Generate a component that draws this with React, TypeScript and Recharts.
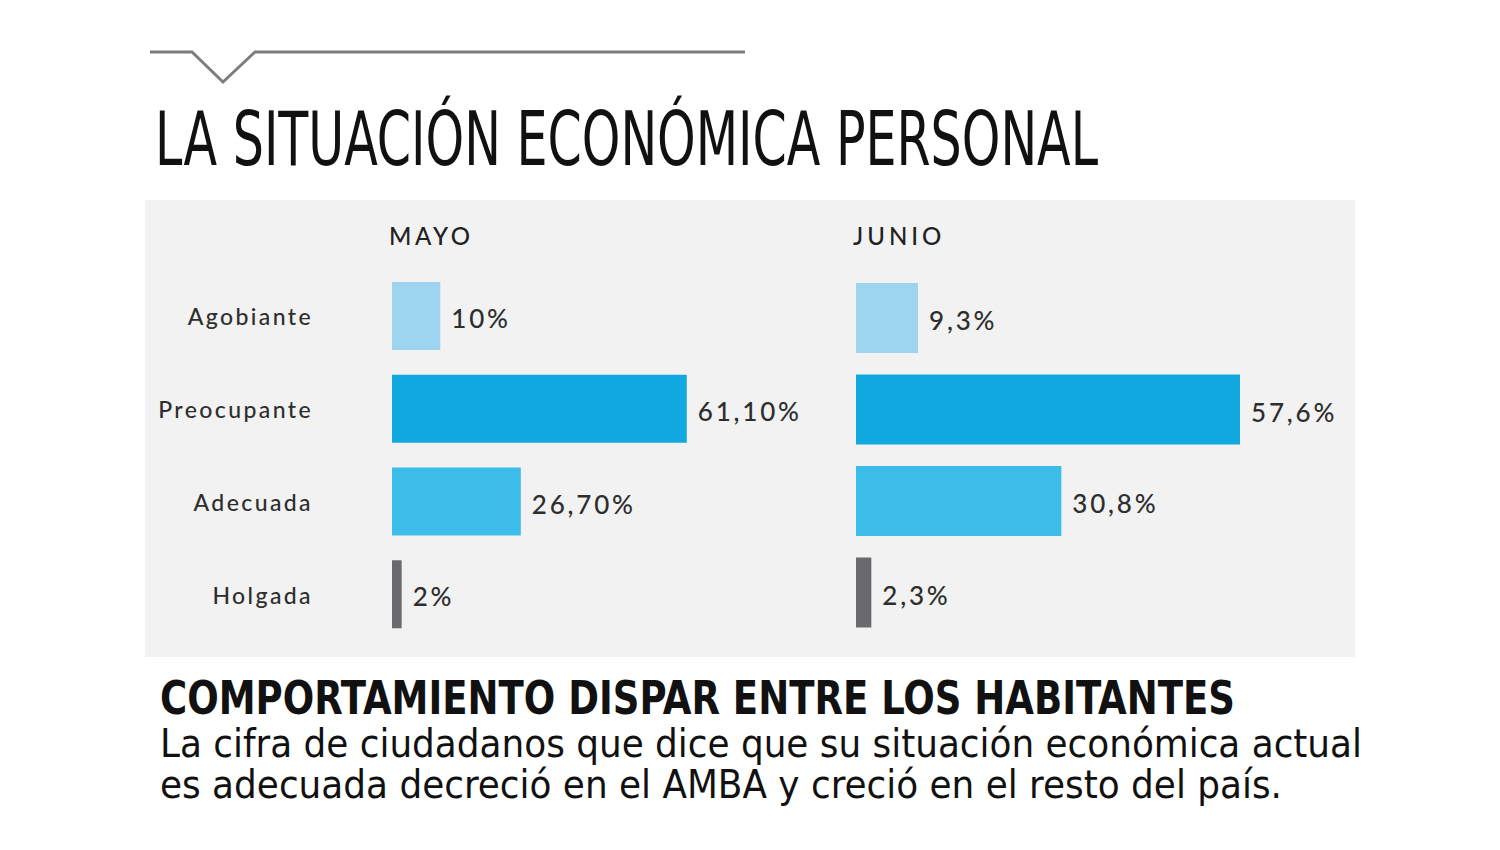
import React from "react";
import { BarChart, Bar, XAxis, YAxis, Cell, LabelList } from "recharts";

const categories = ["Agobiante", "Preocupante", "Adecuada", "Holgada"];
const mayoValues = [10, 61.1, 26.7, 2];
const mayoLabels = ["10%", "61,10%", "26,70%", "2%"];
const junioValues = [9.3, 57.6, 30.8, 2.3];
const junioLabels = ["9,3%", "57,6%", "30,8%", "2,3%"];
const barColors = ["#9dd4ef", "#12a9e1", "#3cbde9", "#6a6a6e"];

const mayoData = categories.map((c, i) => ({ category: c, value: mayoValues[i], label: mayoLabels[i] }));
const junioData = categories.map((c, i) => ({ category: c, value: junioValues[i], label: junioLabels[i] }));

const LABEL_FONT = "Lato, 'Open Sans', sans-serif";
const NARROW = "'Liberation Sans Narrow', 'DejaVu Sans Condensed', 'Liberation Sans', sans-serif";

const CategoryTick = (props: any) => {
  const { x, y, payload } = props;
  return (
    <text
      x={x}
      y={y}
      textAnchor="end"
      dominantBaseline="central"
      fontFamily={LABEL_FONT}
      fontSize={23}
      fontWeight={500}
      letterSpacing={2.4}
      fill="#2e2e2e"
    >
      {payload.value}
    </text>
  );
};

const ValueLabel = (props: any) => {
  const { x, y, width, height, value } = props;
  return (
    <text
      x={x + width + 11}
      y={y + height / 2 + 2}
      dominantBaseline="central"
      fontFamily={LABEL_FONT}
      fontSize={26}
      fontWeight={500}
      letterSpacing={2.8}
      fill="#2e2e2e"
    >
      {value}
    </text>
  );
};

export default function App() {
  return (
    <div style={{ position: "absolute", left: 0, top: 0, width: 1500, height: 850, background: "#fff", overflow: "hidden" }}>
      <svg width={1500} height={850} style={{ position: "absolute", left: 0, top: 0 }}>
        <path d="M150,52 H192 L223,82 L255,52 H745" fill="none" stroke="#7d7d7d" strokeWidth={3} />
        <text
          x={155}
          y={165}
          fontFamily={NARROW}
          fontSize={74}
          textLength={943}
          lengthAdjust="spacingAndGlyphs"
          fill="#111"
        >
          LA SITUACIÓN ECONÓMICA PERSONAL
        </text>
        <rect x={145} y={200} width={1210} height={457} fill="#f2f2f2" />
        <text x={389} y={245} fontFamily={LABEL_FONT} fontSize={24} fontWeight={500} letterSpacing={3.5} fill="#222">MAYO</text>
        <text x={853} y={245} fontFamily={LABEL_FONT} fontSize={24} fontWeight={500} letterSpacing={4} fill="#222">JUNIO</text>
        <text
          x={160}
          y={714}
          fontFamily={NARROW}
          fontWeight="bold"
          fontSize={47}
          textLength={1075}
          lengthAdjust="spacingAndGlyphs"
          fill="#111"
        >
          COMPORTAMIENTO DISPAR ENTRE LOS HABITANTES
        </text>
        <text
          x={160}
          y={757}
          fontFamily={NARROW}
          fontSize={39}
          textLength={1202}
          lengthAdjust="spacingAndGlyphs"
          fill="#111"
        >
          La cifra de ciudadanos que dice que su situación económica actual
        </text>
        <text
          x={160}
          y={798}
          fontFamily={NARROW}
          fontSize={39}
          textLength={1122}
          lengthAdjust="spacingAndGlyphs"
          fill="#111"
        >
          es adecuada decreció en el AMBA y creció en el resto del país.
        </text>
      </svg>

      <div style={{ position: "absolute", left: 145, top: 200 }}>
        <BarChart
          width={700}
          height={457}
          data={mayoData}
          layout="vertical"
          margin={{ top: 70, right: 67, bottom: 16, left: 0 }}
        >
          <XAxis type="number" domain={[0, 80]} hide />
          <YAxis
            type="category"
            dataKey="category"
            width={247}
            axisLine={false}
            tickLine={false}
            tickSize={0}
            tickMargin={79}
            tick={<CategoryTick />}
          />
          <Bar dataKey="value" barSize={68} isAnimationActive={false}>
            {mayoData.map((d, i) => (
              <Cell key={d.category} fill={barColors[i]} />
            ))}
            <LabelList dataKey="label" content={<ValueLabel />} />
          </Bar>
        </BarChart>
      </div>

      <div style={{ position: "absolute", left: 845, top: 200 }}>
        <BarChart
          width={510}
          height={457}
          data={junioData}
          layout="vertical"
          margin={{ top: 72, right: 99, bottom: 19, left: 11 }}
        >
          <XAxis type="number" domain={[0, 60]} hide />
          <YAxis type="category" dataKey="category" hide />
          <Bar dataKey="value" barSize={70} isAnimationActive={false}>
            {junioData.map((d, i) => (
              <Cell key={d.category} fill={barColors[i]} />
            ))}
            <LabelList dataKey="label" content={<ValueLabel />} />
          </Bar>
        </BarChart>
      </div>
    </div>
  );
}
